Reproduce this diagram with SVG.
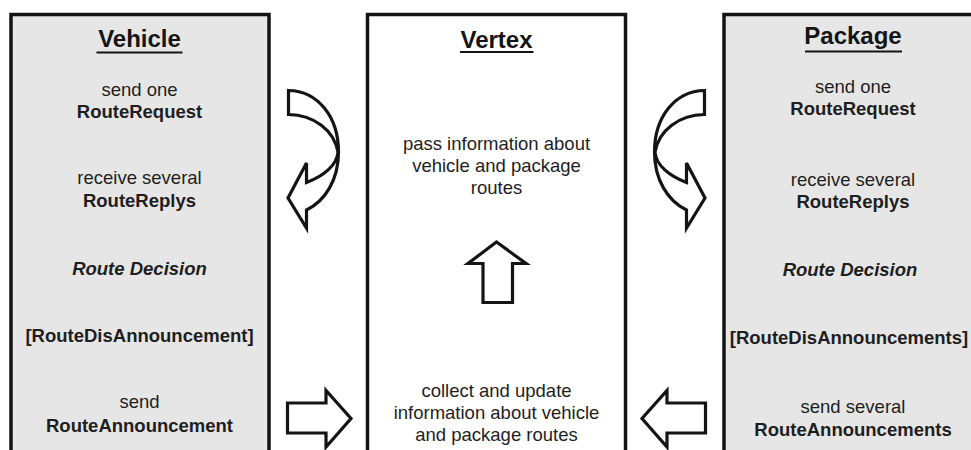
<svg xmlns="http://www.w3.org/2000/svg" width="971" height="450" viewBox="0 0 971 450">
<style>
.box{stroke:#141414;stroke-width:3.5}
.side{fill:#e6e6e6}
.mid{fill:#ffffff}
.t{font-family:"Liberation Sans",Arial,Helvetica,sans-serif;font-size:18.5px;fill:#1e1e1e;text-anchor:middle}
.b{font-weight:bold}
.bi{font-weight:bold;font-style:italic}
.title{font-family:"Liberation Sans",Arial,Helvetica,sans-serif;font-size:24px;font-weight:bold;fill:#141414;text-anchor:middle}
.ul{stroke:#141414;stroke-width:2}
.arr{fill:#ffffff;stroke:#141414;stroke-width:3.2;stroke-linejoin:miter}
</style>
<defs>
<path id="curve" d="M288.5,90.5 C318,91 338.5,117 338.5,152 C338.5,180 325,201 306.5,210 L306.5,228 L288,198 L306.5,163 L306.5,182.5 C324,176 337,165 338,152 C334,130 314,115 288.5,114.5 Z"/>
<path id="straight" d="M287.5,403 L326,403 L326,390.5 L351,418.5 L326,447 L326,433 L287.5,433 Z"/>
</defs>
<rect width="971" height="450" fill="#ffffff"/>
<g id="vehicle">
<rect class="box side" x="11" y="14.5" width="258" height="450"/>
<text class="title" x="139.5" y="47">Vehicle</text>
<line class="ul" x1="96.5" y1="52.5" x2="182.5" y2="52.5"/>
<text class="t" x="139.5" y="95.5">send one</text>
<text class="t b" x="139.5" y="117.5">RouteRequest</text>
<text class="t" x="139.5" y="184">receive several</text>
<text class="t b" x="139.5" y="206.5">RouteReplys</text>
<text class="t bi" x="139.5" y="275">Route Decision</text>
<text class="t b" x="139.5" y="342">[RouteDisAnnouncement]</text>
<text class="t" x="139.5" y="408">send</text>
<text class="t b" x="139.5" y="432">RouteAnnouncement</text>
</g>
<g id="vertex">
<rect class="box mid" x="367.5" y="14.5" width="258" height="450"/>
<text class="title" x="496.5" y="47.5">Vertex</text>
<line class="ul" x1="460" y1="52" x2="533.5" y2="52"/>
<text class="t" x="496.5" y="150">pass information about</text>
<text class="t" x="496.5" y="172">vehicle and package</text>
<text class="t" x="496.5" y="194">routes</text>
<text class="t" x="496.5" y="397">collect and update</text>
<text class="t" x="496.5" y="419">information about vehicle</text>
<text class="t" x="496.5" y="441">and package routes</text>
</g>
<g id="package">
<rect class="box side" x="724" y="14.5" width="258" height="450"/>
<text class="title" x="853" y="44">Package</text>
<line class="ul" x1="805" y1="51.5" x2="902" y2="51.5"/>
<text class="t" x="853" y="93">send one</text>
<text class="t b" x="853" y="115">RouteRequest</text>
<text class="t" x="853" y="186">receive several</text>
<text class="t b" x="853" y="208">RouteReplys</text>
<text class="t bi" x="850" y="276">Route Decision</text>
<text class="t b" x="849" y="344">[RouteDisAnnouncements]</text>
<text class="t" x="853" y="413">send several</text>
<text class="t b" x="853" y="436">RouteAnnouncements</text>
</g>
<g id="connectors">
<use href="#curve" class="arr"/>
<use href="#curve" class="arr" transform="translate(993,0) scale(-1,1)"/>
<use href="#straight" class="arr"/>
<use href="#straight" class="arr" transform="translate(993,0) scale(-1,1)"/>
<path class="arr" d="M496.5,242 L526,263.5 L512.5,263.5 L512.5,302.5 L483,302.5 L483,263.5 L468,263.5 Z"/>
</g>
</svg>
